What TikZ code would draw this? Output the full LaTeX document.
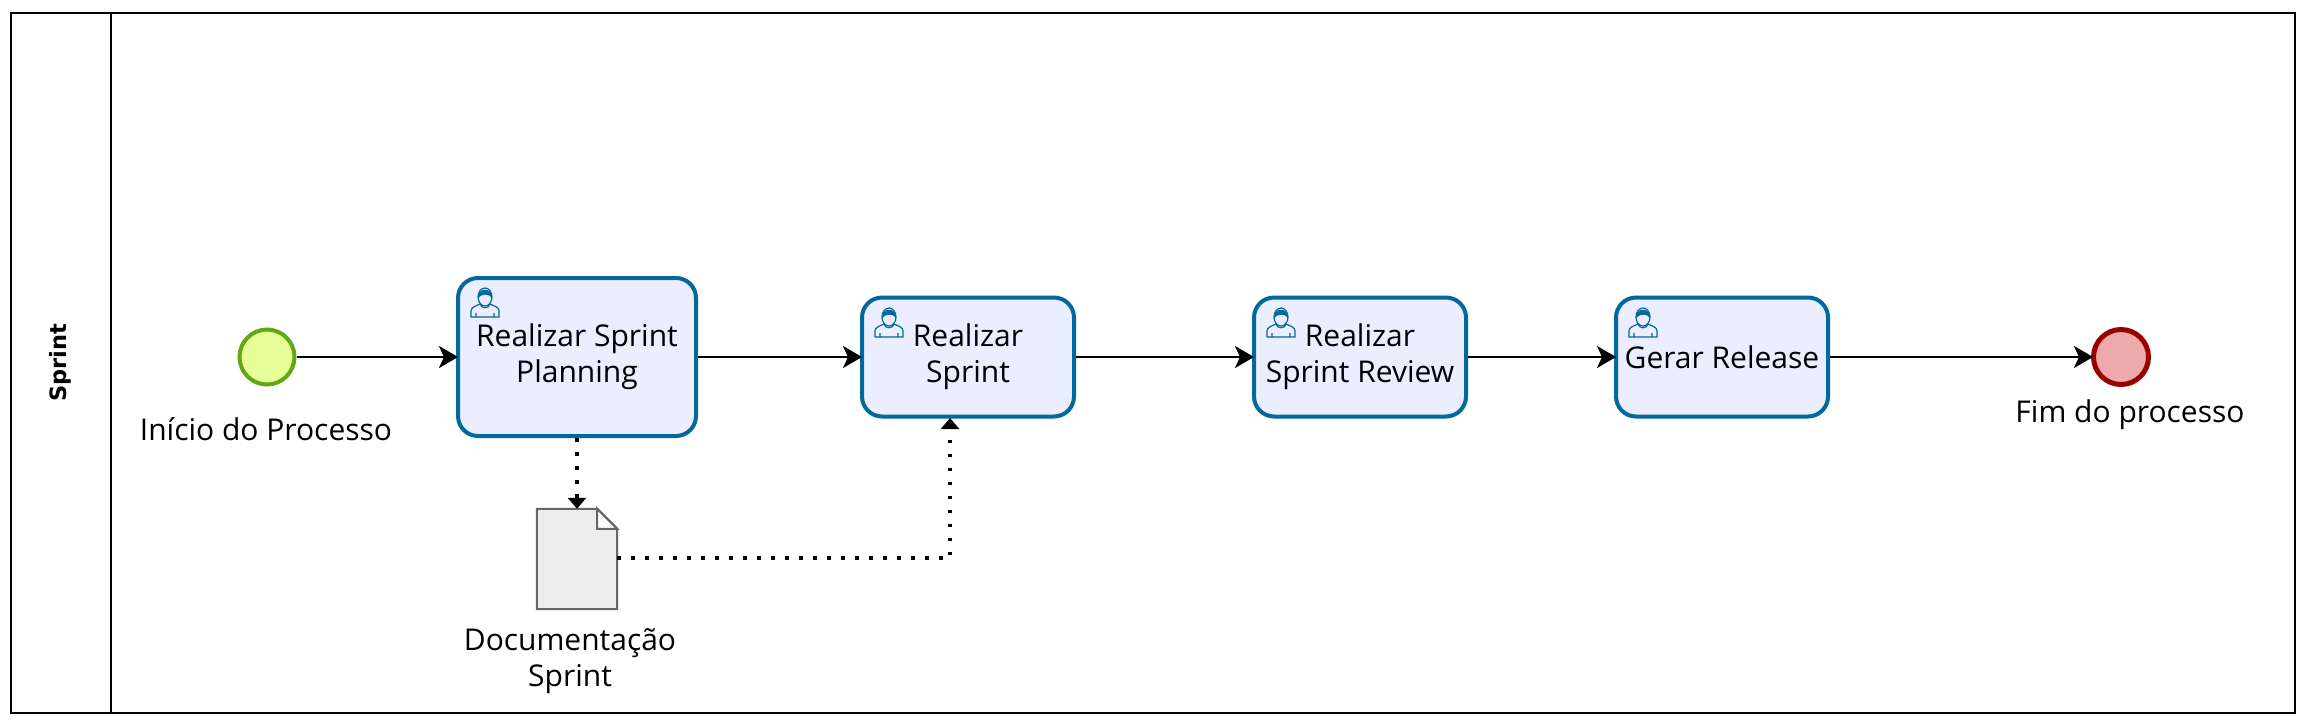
\documentclass[tikz,border=0pt]{standalone}
\usepackage{xcolor}
\usepackage{fontspec}
\setmainfont{Open Sans}
\newfontfamily\raiafont{DejaVu Sans}
\usepackage{tikz}
\usetikzlibrary{arrows.meta,calc}

\definecolor{tarefaazul}{HTML}{03689B}
\definecolor{tarefafundo}{HTML}{EAEEFF}
\definecolor{iniciofundo}{HTML}{E6FF97}
\definecolor{iniciolinha}{HTML}{62A716}
\definecolor{fimfundo}{HTML}{EEAAAA}
\definecolor{fimlinha}{HTML}{990000}

\tikzset{
	raia/.style={draw, line width=2pt, inner sep=0pt, minimum height=700pt},
	tarefa/.style={draw=tarefaazul, fill=tarefafundo, line width=4pt, rounded corners=20pt, inner sep=0pt, align=center, minimum width=212pt, minimum height=119pt},
	evento/.style={draw, circle, inner sep=0pt, minimum size=55pt},
	rotulo/.style={inner sep=0pt, align=center},
	fluxo/.style={line width=2.5pt, shorten >=-2pt, -{Stealth[length=19pt,width=22pt,inset=5pt]}},
	dados/.style={line width=3.5pt, dash pattern=on 3.5pt off 10.5pt, -{Triangle[length=11pt,width=18pt]}},
	usericon/.pic={
		\draw[tarefaazul, line width=1.2pt, fill=tarefafundo] (0,28) -- (0,22) .. controls (0,18) and (5,17) .. (9,15) -- (19,15) .. controls (23,17) and (28,18) .. (28,22) -- (28,28) -- cycle;
		\draw[tarefaazul, line width=1.2pt] (5,28) -- (5,24) (23,28) -- (23,24) (9,15) .. controls (10,20) and (18,20) .. (19,15);
		\draw[tarefaazul, line width=1.2pt, fill=tarefafundo] (14,8) ellipse (7 and 9);
		\fill[tarefaazul] (7,9) .. controls (6,-2) and (22,-2) .. (21,9) .. controls (19,5) and (11,4) .. (7,9) -- cycle;
	}
}

\begin{document}
\begin{tikzpicture}[x=1pt, y=-1pt, font=\fontsize{30}{36}\selectfont]
	\useasboundingbox (0,0) rectangle (2305,721);

	\node[raia, minimum width=2284pt] (pool) at (1153,363) {};
	\node[raia, minimum width=100pt] (faixa) at (61,363) {};
	\node[rotate=90, inner sep=0pt, font=\raiafont\bfseries\fontsize{22.5}{26}\selectfont] (nome) at (60,363) {Sprint};

	\node[evento, draw=iniciolinha, fill=iniciofundo, line width=4pt] (inicio) at (267,357) {};
	\node[rotulo] (inicioT) at (266,429) {Início do Processo};

	\node[tarefa, minimum width=238pt, minimum height=158pt] (t1) at (577,357) {Realizar Sprint\\Planning};
	\node[tarefa] (t2) at (968,357) {Realizar\\Sprint};
	\node[tarefa] (t3) at (1360,357) {Realizar\\Sprint Review};
	\node[tarefa] (t4) at (1722,357) {Gerar Release};
	\pic at (471,289) {usericon};
	\pic at (875,309) {usericon};
	\pic at (1267,309) {usericon};
	\pic at (1629,309) {usericon};

	\node[evento, draw=fimlinha, fill=fimfundo, line width=5pt] (fim) at (2121,357) {};
	\node[rotulo] (fimT) at (2130,415) {Fim do processo};

	\node[minimum width=80pt, minimum height=100pt, inner sep=0pt] (doc) at (577,559) {};
	\draw[draw=black!60, fill=black!7, line width=2pt] (doc.north west) -- ($(doc.north east)+(-20,0)$) -- ($(doc.north east)+(0,20)$) -- (doc.south east) -- (doc.south west) -- cycle;
	\draw[draw=black!60, fill=white, line width=2pt] ($(doc.north east)+(-20,0)$) -- ($(doc.north east)+(-20,20)$) -- ($(doc.north east)+(0,20)$) -- cycle;
	\node[rotulo] (docT) at (570,661) {Documentação\\Sprint};

	\coordinate (saida) at (617,558);
	\coordinate (entrada) at (950,418);
	\draw[fluxo] (inicio) -- (t1);
	\draw[fluxo] (t1) -- (t2);
	\draw[fluxo] (t2) -- (t3);
	\draw[fluxo] (t3) -- (t4);
	\draw[fluxo] (t4) -- (fim);
	\draw[dados] (t1) -- (doc);
	\draw[dados] (saida) -| (entrada);
\end{tikzpicture}
\end{document}
